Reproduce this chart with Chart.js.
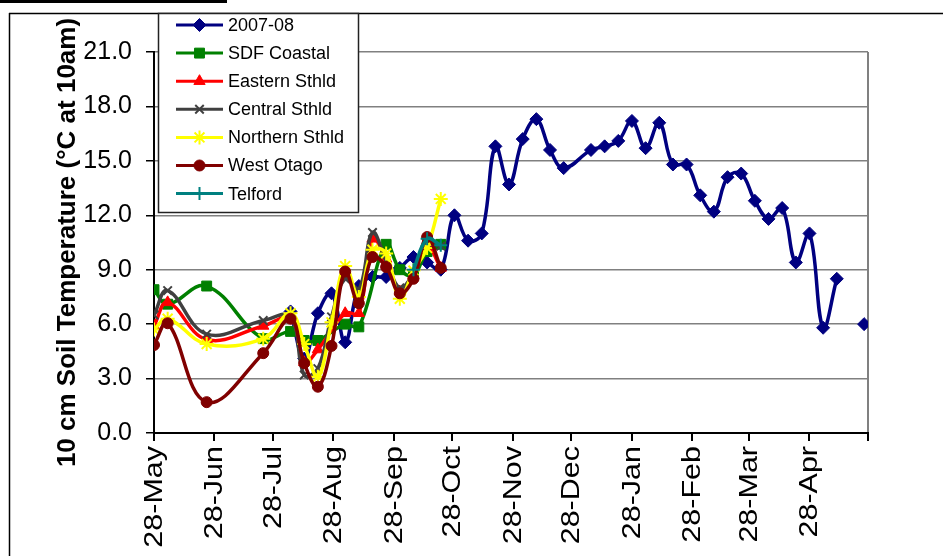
<!DOCTYPE html>
<html><head><meta charset="utf-8">
<script src="https://cdn.jsdelivr.net/npm/chart.js@4.4.0/dist/chart.umd.min.js"></script>
<style>html,body{margin:0;padding:0;background:#fff;}#wrap{width:943px;height:556px;position:relative;}</style>
</head><body><div id="wrap"><canvas id="c" width="943" height="556"></canvas></div>
<script>
// ---- data ----
const axisStart = '2007-05-28';
const tickDates = ['2007-05-28','2007-06-28','2007-07-28','2007-08-28','2007-09-28','2007-10-28','2007-11-28','2007-12-28','2008-01-28','2008-02-28','2008-03-28','2008-04-28','2008-05-28'];
const tickLabels = ['28-May','28-Jun','28-Jul','28-Aug','28-Sep','28-Oct','28-Nov','28-Dec','28-Jan','28-Feb','28-Mar','28-Apr',''];
const yTicks = [0,3,6,9,12,15,18,21];
const seriesNames = ['2007-08','SDF Coastal','Eastern Sthld','Central Sthld','Northern Sthld','West Otago','Telford'];

const seasonDates = ['2007-08-06','2007-08-13','2007-08-20','2007-08-27','2007-09-03','2007-09-10','2007-09-17','2007-09-24','2007-10-01','2007-10-08','2007-10-15','2007-10-22','2007-10-29','2007-11-05','2007-11-12','2007-11-19','2007-11-26','2007-12-03','2007-12-10','2007-12-17','2007-12-24','2008-01-07','2008-01-14','2008-01-21','2008-01-28','2008-02-04','2008-02-11','2008-02-18','2008-02-25','2008-03-03','2008-03-10','2008-03-17','2008-03-24','2008-03-31','2008-04-07','2008-04-14','2008-04-21','2008-04-28','2008-05-05','2008-05-12','2008-05-19','2008-05-26'];
const season2007 = [6.7,4.1,6.6,7.7,5.0,8.1,8.6,8.6,9.1,9.7,9.4,9.0,12.0,10.6,11.0,15.8,13.7,16.2,17.3,15.6,14.6,15.6,15.8,16.1,17.2,15.7,17.1,14.8,14.8,13.1,12.2,14.1,14.3,12.8,11.8,12.4,9.4,11.0,5.8,8.5,null,6.0];

const regionDates = ['2007-05-28','2007-06-04','2007-06-24','2007-07-23','2007-08-06','2007-08-13','2007-08-20','2007-08-27','2007-09-03','2007-09-10','2007-09-17','2007-09-24','2007-10-01','2007-10-08','2007-10-15','2007-10-22'];
const sdfCoastal    = [7.9,7.1,8.1,5.2,5.6,5.1,5.1,null,6.0,5.85,null,10.4,9.0,8.7,10.0,10.4];
const easternSthld  = [5.9,7.2,5.15,5.9,6.3,3.9,4.6,null,6.6,6.6,10.7,9.6,7.8,8.7,10.3,9.1];
const centralSthld  = [6.5,7.85,5.45,6.2,6.4,3.2,3.55,6.4,8.5,7.9,11.05,9.5,8.0,8.8,10.4,10.3];
const northernSthld = [5.7,6.3,4.9,5.2,6.6,4.9,3.1,6.1,9.2,7.5,10.1,9.9,7.4,8.95,10.2,12.9];
const westOtago     = [4.85,6.05,1.7,4.4,6.3,3.85,2.55,4.8,8.9,7.15,9.7,9.15,7.7,8.5,10.8,9.1];
const telford       = [null,null,null,null,null,null,null,null,null,null,null,null,null,9.0,10.7,10.35];

// ---- helpers ----
function dayOf(s){const p=s.split('-').map(Number);const q=axisStart.split('-').map(Number);
  return Math.round((Date.UTC(p[0],p[1]-1,p[2])-Date.UTC(q[0],q[1]-1,q[2]))/86400000);}
function pts(dates, vals, keepNull){const out=[];dates.forEach((d,i)=>{if(vals[i]!==null||keepNull)out.push({x:dayOf(d),y:vals[i]});});return out;}
const tickDays = tickDates.map(dayOf);
const FONT = "'Liberation Sans', Arial, sans-serif";

const styles = [
  {color:'#000080', style:'rectRot', r:6.5, bw:1},
  {color:'#008000', style:'rect', r:7, bw:1},
  {color:'#FF0000', style:'triangle', r:6.5, bw:1},
  {color:'#404040', style:'crossRot', r:6, bw:2},
  {color:'#FFFF00', style:'star', r:7, bw:2},
  {color:'#800000', style:'circle', r:5.5, bw:1},
  {color:'#008080', style:'cross', r:6.5, bw:2}
];
const seriesData = [
  pts(seasonDates, season2007, true),
  pts(regionDates, sdfCoastal),
  pts(regionDates, easternSthld),
  pts(regionDates, centralSthld),
  pts(regionDates, northernSthld),
  pts(regionDates, westOtago),
  pts(regionDates, telford)
];
const datasets = seriesData.map((d,i)=>({
  label: seriesNames[i], data: d,
  borderColor: styles[i].color, backgroundColor: styles[i].color,
  borderWidth: 3.5, tension: 0.4, spanGaps: i!==0,
  pointStyle: styles[i].style, pointRadius: styles[i].r,
  pointBorderColor: styles[i].color, pointBackgroundColor: styles[i].color,
  pointBorderWidth: styles[i].bw, order: 7-i
}));

const decor = {
  id:'decor',
  beforeDraw(chart){
    const c=chart.ctx; c.save();
    c.fillStyle='#fff'; c.fillRect(0,0,chart.width,chart.height);
    c.fillStyle='#000'; c.fillRect(0,0,227,3);
    c.strokeStyle='#000'; c.lineWidth=1.5;
    c.beginPath(); c.moveTo(9,13.5); c.lineTo(943,13.5); c.moveTo(9.5,13); c.lineTo(9.5,556); c.stroke();
    c.restore();
  },
  afterDraw(chart){
    const c=chart.ctx; c.save();
    // x tick labels (rotated, slightly stretched like the original)
    const xs=chart.scales.x;
    c.fillStyle='#000'; c.font='25px '+FONT; c.textAlign='right'; c.textBaseline='middle';
    tickDays.forEach((v,i)=>{
      if(!tickLabels[i]) return;
      const px=xs.getPixelForValue(v);
      c.save(); c.translate(px+1,446); c.rotate(-Math.PI/2); c.scale(1.22,1);
      c.fillText(tickLabels[i],0,0); c.restore();
    });
    // legend
    c.fillStyle='#fff'; c.fillRect(158.5,13.5,200,199);
    c.strokeStyle='#222'; c.lineWidth=1.5; c.strokeRect(158.5,13.5,200,199);
    seriesNames.forEach((n,i)=>{
      const y=25+i*28.1, s=styles[i];
      c.strokeStyle=s.color; c.lineWidth=3;
      c.beginPath(); c.moveTo(176,y); c.lineTo(223,y); c.stroke();
      c.fillStyle=s.color; c.lineWidth=s.bw;
      Chart.helpers.drawPoint(c,{pointStyle:s.style,radius:s.r,rotation:0,borderWidth:s.bw},199.5,y);
      c.fillStyle='#000'; c.font='18px '+FONT; c.textBaseline='middle'; c.textAlign='left';
      c.fillText(n,228,y+1);
    });
    c.restore();
  }
};

new Chart(document.getElementById('c'),{
  type:'line',
  data:{datasets},
  options:{
    responsive:false, animation:false, devicePixelRatio:1,
    layout:{padding:{left:0,top:52,right:75,bottom:0}},
    plugins:{legend:{display:false},tooltip:{enabled:false}},
    scales:{
      x:{type:'linear',min:0,max:tickDays[tickDays.length-1],
        afterBuildTicks:s=>{s.ticks=tickDays.map(v=>({value:v}));},
        ticks:{display:false,autoSkip:false},
        grid:{drawOnChartArea:true,color:c=>c.index===tickDays.length-1?'#808080':'rgba(0,0,0,0)',
          tickColor:'#000',tickLength:8,lineWidth:2},
        border:{color:'#000',width:2},
        afterFit:s=>{s.height=123;}
      },
      y:{min:0,max:21,
        afterBuildTicks:s=>{s.ticks=yTicks.map(v=>({value:v}));},
        ticks:{padding:14,color:'#000',font:{family:FONT,size:25},callback:v=>Number(v).toFixed(1)},
        grid:{color:'#808080',tickColor:'#000',tickLength:8,lineWidth:1.5},
        border:{color:'#000',width:2},
        title:{display:true,text:'10 cm Soil Temperature (°C at 10am)',color:'#000',
          font:{family:FONT,size:26,weight:'bold'},padding:{top:52,bottom:0}},
        afterFit:s=>{s.width=154;}
      }
    }
  },
  plugins:[decor]
});
</script></body></html>
